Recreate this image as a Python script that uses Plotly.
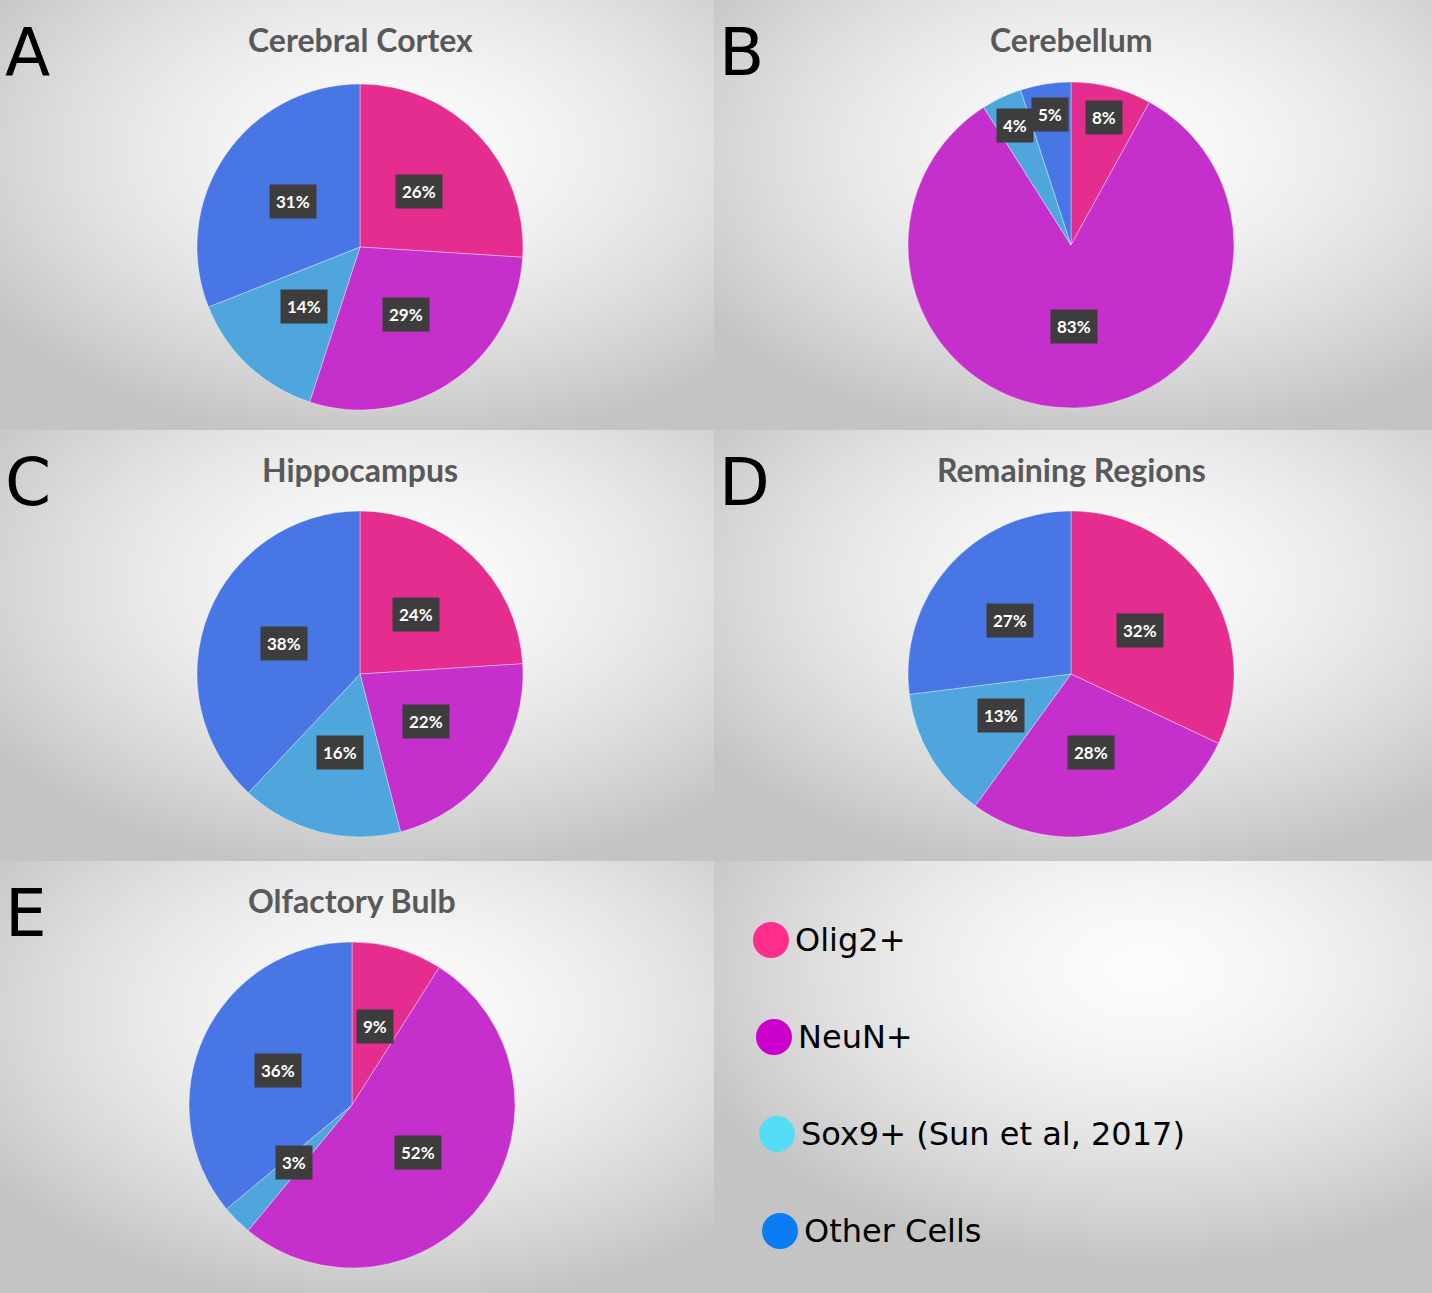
"""Cell-type composition per brain region: five pies, panel letters, and a hand-drawn legend."""
import base64
import math
import struct
import zlib

import numpy as np
import plotly.graph_objects as go

W, H = 1432, 1293

CATEGORIES = ["Olig2+", "NeuN+", "Sox9+ (Sun et al, 2017)", "Other Cells"]
REGIONS = ["Cerebral Cortex", "Cerebellum", "Hippocampus", "Remaining Regions", "Olfactory Bulb"]
LETTERS = ["A", "B", "C", "D", "E"]
CORTEX = [26, 29, 14, 31]
CEREBELLUM = [8, 83, 4, 5]
HIPPOCAMPUS = [24, 22, 16, 38]
REMAINING = [32, 28, 13, 27]
OLFACTORY = [9, 52, 3, 36]

SLICE_COLORS = ["#E42D8F", "#C52FCB", "#4EA6DC", "#4876E5"]
LEGEND_COLORS = ["#FF2D8B", "#CC00CC", "#55DDF5", "#0A7DF5"]

# layout (pixels): panel rects, pie centres, pie radius
PANELS = [(0, 0, 714, 430), (714, 0, 1432, 430), (0, 430, 714, 861),
          (714, 430, 1432, 861), (0, 861, 714, 1293), (714, 861, 1432, 1293)]
CENTERS = [(360, 247), (1071, 245), (360, 674), (1071, 674), (352, 1105)]
R = 163


def _png_uri(img):
    """grayscale uint8 array -> data: URI (PNG, 'Up' filter so gradients compress)."""
    h, w = img.shape
    up = img.astype(np.int16)
    diff = np.vstack([up[:1], (up[1:] - up[:-1]) % 256]).astype(np.uint8)
    raw = b"".join((b"\x00" if i == 0 else b"\x02") + diff[i].tobytes() for i in range(h))

    def chunk(tag, data):
        c = struct.pack(">I", len(data)) + tag + data
        return c + struct.pack(">I", zlib.crc32(tag + data) & 0xFFFFFFFF)

    png = (b"\x89PNG\r\n\x1a\n" + chunk(b"IHDR", struct.pack(">IIBBBBB", w, h, 8, 0, 0, 0, 0))
           + chunk(b"IDAT", zlib.compress(raw, 9)) + chunk(b"IEND", b""))
    return "data:image/png;base64," + base64.b64encode(png).decode()


def _background():
    img = np.full((H, W), 255.0)
    yy, xx = np.mgrid[0:H, 0:W]
    for k, (x0, y0, x1, y1) in enumerate(PANELS):
        fx, fy = (0.6, 0.25) if k == 5 else (0.55, 0.35)
        cx, cy = x0 + fx * (x1 - x0), y0 + fy * (y1 - y0)
        m = (xx >= x0) & (xx < x1) & (yy >= y0) & (yy < y1)
        d = np.sqrt(((xx - cx) / (0.5 * (x1 - x0))) ** 2 + ((yy - cy) / (0.5 * (y1 - y0))) ** 2)
        img[m] = 252 - 34 * d[m] ** 1.6
    return _png_uri(np.clip(img, 196, 255).astype(np.uint8))


fig = go.Figure()
annotations = []
for k, vals in enumerate([CORTEX, CEREBELLUM, HIPPOCAMPUS, REMAINING, OLFACTORY]):
    cx, cy = CENTERS[k]
    fig.add_trace(go.Pie(
        labels=CATEGORIES, values=vals, sort=False, direction="clockwise", rotation=0,
        marker=dict(colors=SLICE_COLORS, line=dict(color="rgba(255,255,255,0.45)", width=0.8)),
        textinfo="none", hoverinfo="skip", showlegend=False,
        domain=dict(x=[(cx - R) / W, (cx + R) / W], y=[1 - (cy + R) / H, 1 - (cy - R) / H])))
    # value boxes: half-way out, tiny slices of the cerebellum pushed towards the rim
    tot, acc = sum(vals), 0
    for v in vals:
        th = 2 * math.pi * (acc + v / 2) / tot
        acc += v
        f = 0.81 if (k == 1 and v < 10) else 0.5
        annotations.append(dict(
            x=(cx + f * R * math.sin(th)) / W, y=1 - (cy - f * R * math.cos(th)) / H,
            xref="paper", yref="paper", xanchor="center", yanchor="middle",
            text=f"<b>{round(100 * v / tot)}%</b>", showarrow=False,
            font=dict(family="Lato, Open Sans", size=17, color="white"),
            bgcolor="#3d3d3d", borderpad=6))
    x0, y0 = PANELS[k][:2]
    annotations.append(dict(x=cx / W, y=1 - (y0 + 39) / H, xref="paper", yref="paper",
                            xanchor="center", yanchor="middle",
                            text=f"<b>{REGIONS[k]}</b>", showarrow=False,
                            font=dict(family="Lato, Open Sans", size=32, color="#595959")))
    annotations.append(dict(x=(x0 + 3) / W, y=1 - (y0 + 52) / H, xref="paper", yref="paper",
                            text=LETTERS[k], showarrow=False, xanchor="left", yanchor="middle",
                            font=dict(family="DejaVu Sans", size=66, color="black")))

# the legend panel
lx0, ly0 = PANELS[5][:2]
mx = [lx0 + 57 + 3 * i for i in range(4)]
my = [ly0 + 79 + 97 * i for i in range(4)]
fig.add_trace(go.Scatter(x=mx, y=my, mode="markers", hoverinfo="skip", showlegend=False,
                         marker=dict(size=36, color=LEGEND_COLORS, line=dict(width=0))))
for i, lab in enumerate(CATEGORIES):
    annotations.append(dict(x=mx[i] + 22, y=my[i], xref="x", yref="y", text=lab,
                            showarrow=False, xanchor="left", yanchor="middle",
                            font=dict(family="DejaVu Sans", size=32, color="black")))

fig.update_layout(
    width=W, height=H, autosize=False, margin=dict(l=0, r=0, t=0, b=0),
    paper_bgcolor="white", plot_bgcolor="rgba(0,0,0,0)",
    xaxis=dict(range=[0, W], domain=[0, 1], visible=False, fixedrange=True),
    yaxis=dict(range=[H, 0], domain=[0, 1], visible=False, fixedrange=True),
    images=[dict(source=_background(), xref="paper", yref="paper", x=0, y=1, sizex=1, sizey=1,
                 xanchor="left", yanchor="top", sizing="stretch", layer="below")],
    annotations=annotations)
fig.write_html("out.html", config={"displayModeBar": False},
               post_script="document.body.style.margin='0';")
